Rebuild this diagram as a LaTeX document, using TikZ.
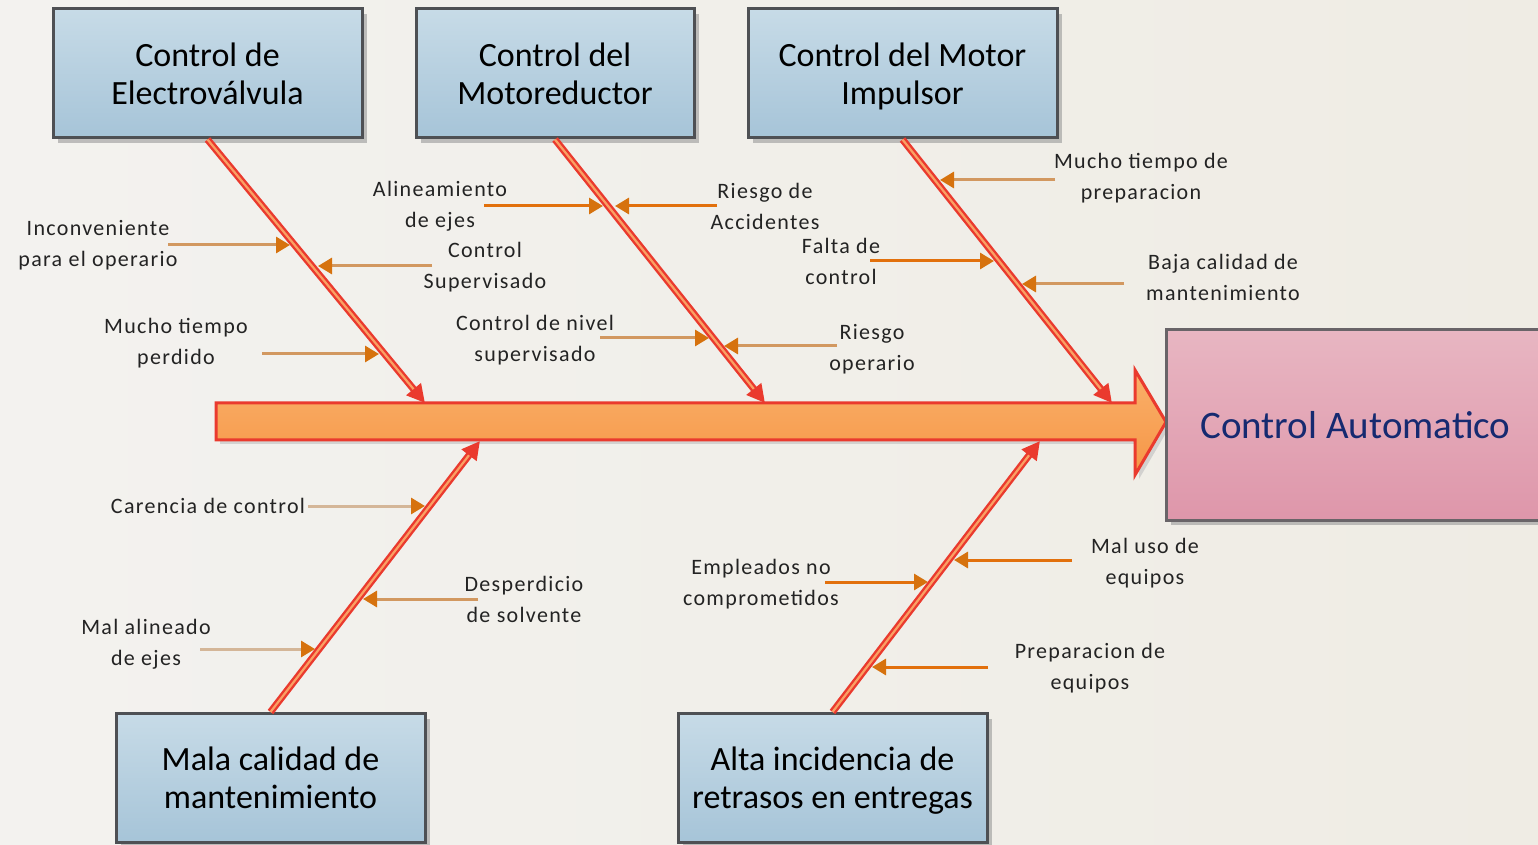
\documentclass[tikz,border=0pt]{standalone}
\usepackage{fontspec}
\setmainfont{Carlito}
\newfontfamily\lblfont[LetterSpace=6]{Carlito}
\usetikzlibrary{arrows.meta,shadows}
\definecolor{bgL}{RGB}{243,242,239}
\definecolor{bgM}{RGB}{252,252,251}
\definecolor{bgR}{RGB}{239,236,228}
\definecolor{boxtop}{RGB}{199,219,231}
\definecolor{boxbot}{RGB}{166,196,216}
\definecolor{boxedge}{RGB}{78,80,84}
\definecolor{pinktop}{RGB}{232,182,194}
\definecolor{pinkbot}{RGB}{222,150,170}
\definecolor{pinkedge}{RGB}{105,100,104}
\definecolor{navy}{RGB}{22,42,112}
\definecolor{spinetop}{RGB}{250,176,106}
\definecolor{spinebot}{RGB}{246,150,70}
\definecolor{spinered}{RGB}{234,58,46}
\definecolor{boneor}{RGB}{250,160,100}
\definecolor{darkor}{RGB}{226,112,12}
\definecolor{tanor}{RGB}{210,152,96}
\definecolor{lighttan}{RGB}{212,182,152}
\definecolor{heador}{RGB}{214,114,14}
\definecolor{lbltext}{RGB}{35,35,35}
\tikzset{
  cause/.style={draw=boxedge, line width=1.5pt, top color=boxtop, bottom color=boxbot,
    minimum height=64.5pt, align=center, text=black,
    font=\fontsize{17}{19}\selectfont,
    drop shadow={shadow xshift=2.5pt, shadow yshift=-2.5pt, fill=black!40, opacity=0.6}},
  effect/.style={draw=pinkedge, line width=1.5pt, top color=pinktop, bottom color=pinkbot,
    minimum width=189.5pt, minimum height=95pt, text=navy,
    font=\fontsize{19.5}{22}\selectfont,
    drop shadow={shadow xshift=2.5pt, shadow yshift=-2.5pt, fill=black!40, opacity=0.6}},
  lbl/.style={align=center, font=\lblfont\fontsize{11}{15.5}\selectfont, text=lbltext, inner sep=0pt},
  bone/.style={line width=3.5pt, draw=spinered, -{Triangle[length=9pt,width=9pt]}},
  bonein/.style={line width=1.1pt, draw=boneor, shorten >=9pt},
  sub/.style={line width=1.5pt, -{Triangle[length=7pt,width=8pt,color=heador]}},
  subdark/.style={sub, draw=darkor},
  subtan/.style={sub, draw=tanor},
  sublight/.style={sub, draw=lighttan},
}
\begin{document}
\begin{tikzpicture}[x=0.5pt,y=-0.5pt]
\fill[left color=bgL, middle color=bgM, right color=bgR] (0,0) rectangle (1538,845);
\useasboundingbox (0,0) rectangle (1538,845);
\clip (0,0) rectangle (1538,845);

% spine
\fill[black!25, opacity=0.6] (220,407) -- (1139,407) -- (1139,374) -- (1170,426) -- (1139,479) -- (1139,444) -- (220,444) -- cycle;
\draw[spinered, line width=1.5pt, top color=spinetop, bottom color=spinebot, line join=miter]
  (216,403) -- (1135,403) -- (1135,370) -- (1166,422) -- (1135,475) -- (1135,440) -- (216,440) -- cycle;

% cause boxes
\node[cause, minimum width=154.5pt] (c1) at (207.5,73.5) {Control de\\Electroválvula};
\node[cause, minimum width=139pt] (c2) at (555,73.5) {Control del\\Motoreductor};
\node[cause, minimum width=154.5pt] (c3) at (902.5,73.5) {Control del Motor\\\smash{Impulsor}};
\node[cause, minimum width=154.5pt] (c4) at (270.5,778) {Mala calidad de\\mantenimiento};
\node[cause, minimum width=154.5pt] (c5) at (832.5,778) {Alta incidencia de\\\smash{retrasos en entregas}};
\node[effect] (eff) at (1355.5,425) {Control Automatico};

% bone ends on the spine
\coordinate (e1) at (425,403);
\coordinate (e2) at (765,403);
\coordinate (e3) at (1112,403);
\coordinate (e4) at (480,441);
\coordinate (e5) at (1040,441);

\foreach \c/\e in {c1/e1,c2/e2,c3/e3}{
  \draw[bone] (\c.south) -- (\e);
  \draw[bonein] (\c.south) -- (\e);
}
\foreach \c/\e in {c4/e4,c5/e5}{
  \draw[bone] (\c.north) -- (\e);
  \draw[bonein] (\c.north) -- (\e);
}

% labels
\node[lbl] (l1) at (98,245) {Inconveniente\\para el operario};
\node[lbl] (l2) at (485,267) {Control\\Supervisado};
\node[lbl] (l3) at (176,343) {Mucho tiempo\\perdido};
\node[lbl] (l4) at (440,206) {Alineamiento\\de ejes};
\node[lbl] (l5) at (765,206) {Riesgo de\\Accidentes};
\node[lbl] (l6) at (535,340) {Control de nivel\\supervisado};
\node[lbl] (l7) at (872,349) {Riesgo\\operario};
\node[lbl] (l8) at (1141,178) {Mucho tiempo de\\preparacion};
\node[lbl] (l9) at (841,261) {Falta de\\control};
\node[lbl] (l10) at (1223,277) {Baja calidad de\\mantenimiento};
\node[lbl] (l11) at (208,506) {Carencia de control};
\node[lbl] (l12) at (524,599) {Desperdicio\\de solvente};
\node[lbl] (l13) at (146,644) {Mal alineado\\de ejes};
\node[lbl] (l14) at (761,584) {Empleados no\\comprometidos};
\node[lbl] (l15) at (1145,563) {Mal uso de\\equipos};
\node[lbl] (l16) at (1090,668) {Preparacion de\\equipos};

% sub-cause arrow coordinates
\coordinate (s1) at (168,245);  \coordinate (t1) at (290,245);
\coordinate (s2) at (432,266);  \coordinate (t2) at (318,266);
\coordinate (s3) at (262,354);  \coordinate (t3) at (379,354);
\coordinate (s4) at (484,206);  \coordinate (t4) at (603,206);
\coordinate (s5) at (717,206);  \coordinate (t5) at (615,206);
\coordinate (s6) at (600,338);  \coordinate (t6) at (709,338);
\coordinate (s7) at (837,346);  \coordinate (t7) at (724,346);
\coordinate (s8) at (1055,180); \coordinate (t8) at (940,180);
\coordinate (s9) at (870,261);  \coordinate (t9) at (994,261);
\coordinate (s10) at (1124,284); \coordinate (t10) at (1022,284);
\coordinate (s11) at (308,506); \coordinate (t11) at (425,506);
\coordinate (s12) at (478,599); \coordinate (t12) at (363,599);
\coordinate (s13) at (200,649); \coordinate (t13) at (315,649);
\coordinate (s14) at (825,582); \coordinate (t14) at (928,582);
\coordinate (s15) at (1072,560); \coordinate (t15) at (954,560);
\coordinate (s16) at (988,667); \coordinate (t16) at (872,667);

\draw[subtan] (s1) -- (t1);
\draw[subtan] (s2) -- (t2);
\draw[subtan] (s3) -- (t3);
\draw[subdark] (s4) -- (t4);
\draw[subdark] (s5) -- (t5);
\draw[subtan] (s6) -- (t6);
\draw[subtan] (s7) -- (t7);
\draw[subtan] (s8) -- (t8);
\draw[subdark] (s9) -- (t9);
\draw[subtan] (s10) -- (t10);
\draw[sublight] (s11) -- (t11);
\draw[subtan] (s12) -- (t12);
\draw[sublight] (s13) -- (t13);
\draw[subdark] (s14) -- (t14);
\draw[subdark] (s15) -- (t15);
\draw[subdark] (s16) -- (t16);
\end{tikzpicture}
\end{document}
